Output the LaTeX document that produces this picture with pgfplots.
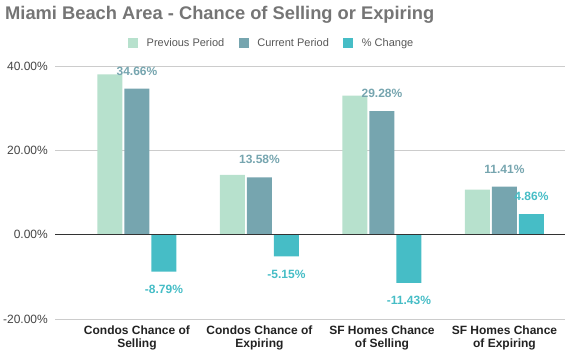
\documentclass[border=0pt]{standalone}
\usepackage{pgfplots}
\pgfplotsset{compat=1.18}
\usepackage{fontspec}
\setmainfont{Liberation Sans}
\definecolor{prevc}{HTML}{B7E1CD}
\definecolor{curc}{HTML}{76A5AF}
\definecolor{chgc}{HTML}{46BDC6}
\definecolor{titlec}{HTML}{757575}
\definecolor{gridc}{HTML}{CCCCCC}
\definecolor{tickc}{HTML}{444444}
\definecolor{catc}{HTML}{222222}
\begin{document}
\begin{tikzpicture}
\path[use as bounding box] (0,0) rectangle (568bp,356bp);
\node[anchor=base west, font=\fontsize{18.3bp}{20bp}\selectfont\bfseries, text=titlec, inner sep=0pt] at (5bp,336.5bp) {Miami Beach Area - Chance of Selling or Expiring};
\begin{axis}[
  at={(55bp,37bp)}, anchor=south west,
  scale only axis, width=510bp, height=253bp,
  xmin=-0.669, xmax=3.494, ymin=-20, ymax=40,
  ybar=2bp, bar width=25bp,
  clip=false,
  axis line style={draw=none},
  major tick length=0pt,
  ytick={-20,0,20,40},
  ymajorgrids, major grid style={draw=gridc, line width=0.8bp},
  yticklabel={\pgfmathprintnumber[fixed,fixed zerofill,precision=2]{\tick}\%},
  /pgf/number format/assume math mode=true,
  yticklabel style={font=\fontsize{12bp}{14bp}\selectfont, text=tickc, inner sep=0pt, xshift=-7bp},
  xtick={0,1,2,3},
  xticklabels={{Condos Chance of\\Selling},{Condos Chance of\\Expiring},{SF Homes Chance\\of Selling},{SF Homes Chance\\of Expiring}},
  xticklabel style={align=center, font=\fontsize{12bp}{13bp}\selectfont\bfseries, text=catc, inner sep=0pt, yshift=-7bp},
  legend style={at={(0.4235,1.09)}, anchor=center, draw=none, fill=none, legend columns=3,
    font=\fontsize{11bp}{13bp}\selectfont, text=tickc!90,
    /tikz/every odd column/.append style={column sep=8bp},
    /tikz/every even column/.append style={column sep=14bp},
    nodes={inner sep=0.5bp}},
  legend image code/.code={\fill[#1,draw=none] (0bp,-5bp) rectangle (10bp,5bp);},
  nodes near coords align={vertical},
  every node near coord/.append style={font=\fontsize{12bp}{14bp}\selectfont\bfseries, inner sep=0pt, outer sep=13.5bp, text height=8.6bp, text depth=0pt},
]
\addplot[fill=prevc, draw=none] coordinates {(0,38.0) (1,14.2) (2,33.0) (3,10.7)};
\addplot[fill=curc, draw=none, nodes near coords={\pgfmathprintnumber[fixed,fixed zerofill,precision=2]{\pgfplotspointmeta}\%}, every node near coord/.append style={text=curc}] coordinates {(0,34.66) (1,13.58) (2,29.28) (3,11.41)};
\addplot[fill=chgc, draw=none, nodes near coords={\pgfmathprintnumber[fixed,fixed zerofill,precision=2]{\pgfplotspointmeta}\%}, every node near coord/.append style={text=chgc}] coordinates {(0,-8.79) (1,-5.15) (2,-11.43) (3,4.86)};
\legend{Previous Period, Current Period, \% Change}
\draw[draw=black!80, line width=0.9bp] (axis cs:-0.669,0) -- (axis cs:3.494,0);
\end{axis}
\end{tikzpicture}
\end{document}
